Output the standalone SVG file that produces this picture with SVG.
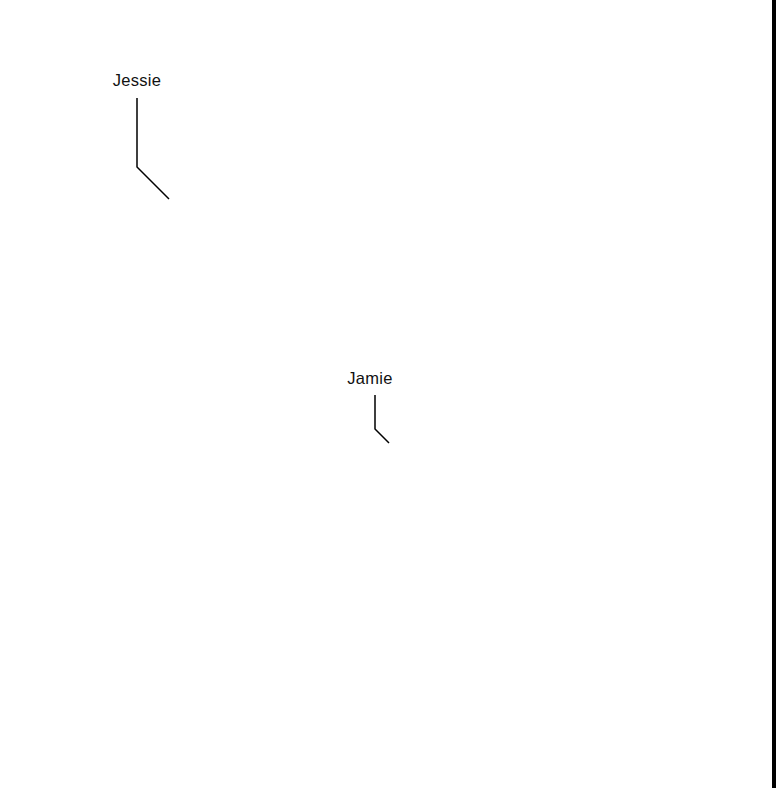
<svg xmlns="http://www.w3.org/2000/svg" width="776" height="788" viewBox="0 0 776 788">
<style>
.lbl{font-family:"Liberation Sans",Arial,sans-serif;font-size:16.5px;fill:#111;text-anchor:middle;letter-spacing:0.3px}
.ln{fill:none;stroke:#000;stroke-width:1.5}
</style>
<rect x="0" y="0" width="776" height="788" fill="#fff"/>
<rect x="772" y="0" width="4" height="788" fill="#000"/>
<g id="jessie"><text class="lbl" x="137" y="86">Jessie</text></g>
<g id="jamie"><text class="lbl" x="370" y="384">Jamie</text></g>
<g id="connectors">
<polyline class="ln" points="137,98 137,167 169,199"/>
<polyline class="ln" points="375,395 375,429 389,443"/>
</g>
</svg>
